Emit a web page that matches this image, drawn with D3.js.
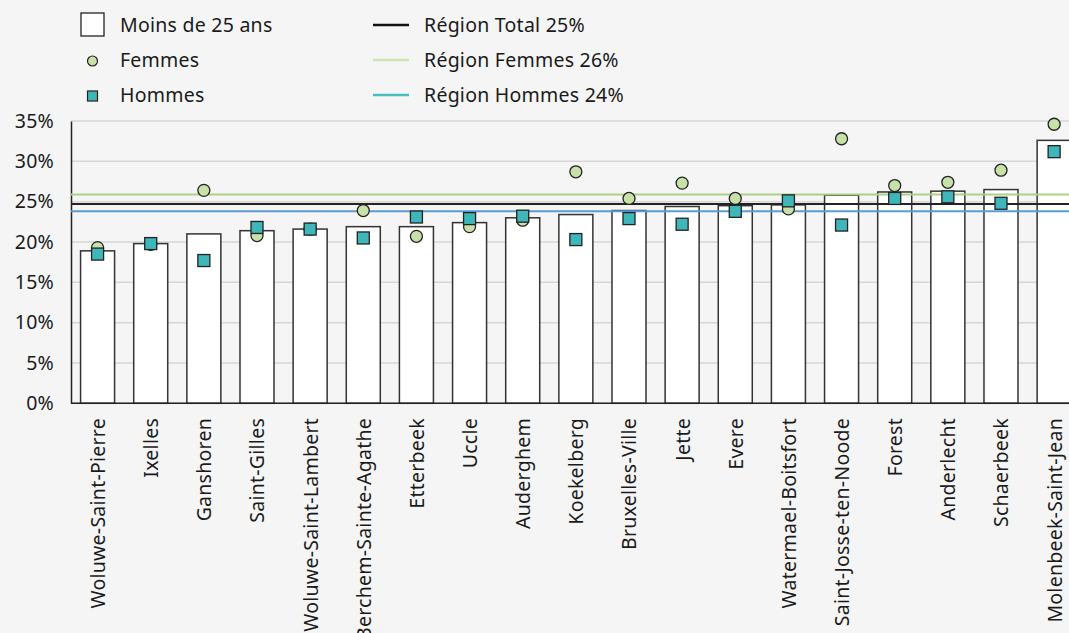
<!DOCTYPE html>
<html><head><meta charset="utf-8">
<script src="https://cdn.jsdelivr.net/npm/d3@7"></script>
<style>
html,body{margin:0;padding:0;background:#f5f5f5;overflow:hidden}
text{font-family:"Noto Sans", sans-serif;fill:#1a1a1a;letter-spacing:0.25px}
</style></head>
<body>
<svg id="c" width="1069" height="633"></svg>
<script>
const communes = ["Woluwe-Saint-Pierre","Ixelles","Ganshoren","Saint-Gilles","Woluwe-Saint-Lambert","Berchem-Sainte-Agathe","Etterbeek","Uccle","Auderghem","Koekelberg","Bruxelles-Ville","Jette","Evere","Watermael-Boitsfort","Saint-Josse-ten-Noode","Forest","Anderlecht","Schaerbeek","Molenbeek-Saint-Jean"];
const moins25 = [18.9,19.8,21.0,21.4,21.6,21.9,21.9,22.4,23.0,23.4,23.9,24.4,24.5,24.6,25.8,26.2,26.3,26.5,32.6];
const femmes  = [19.3,19.7,26.4,20.8,21.6,23.9,20.7,21.9,22.7,28.7,25.4,27.3,25.4,24.1,32.8,27.0,27.4,28.9,34.6];
const hommes  = [18.5,19.8,17.7,21.8,21.6,20.5,23.1,22.9,23.2,20.3,22.9,22.2,23.8,25.1,22.1,25.4,25.6,24.8,31.2];
const regionTotal = 24.7, regionFemmes = 25.9, regionHommes = 23.8;
const yTicks = [0,5,10,15,20,25,30,35];
const legendLeft = ["Moins de 25 ans","Femmes","Hommes"];
const legendRight = ["Région Total 25%","Région Femmes 26%","Région Hommes 24%"];

const svg = d3.select("#c");
const x = d3.scaleBand().domain(communes).range([71, 1080.7]).paddingInner(0.36).paddingOuter(0.18);
const y = d3.scaleLinear().domain([0,35]).range([403.3, 121]);
const FS = 19.5;
const FF = "'Noto Sans', sans-serif";

// gridlines
svg.append("g").selectAll("line").data(yTicks).join("line")
  .attr("x1",71).attr("x2",1069).attr("y1",d=>y(d)).attr("y2",d=>y(d))
  .attr("stroke","#d6d6d6").attr("stroke-width",1.5);

// y axis
const ya = svg.append("g").attr("transform","translate(71,0)")
  .call(d3.axisLeft(y).tickValues(yTicks).tickFormat(d=>d+"%").tickSize(0).tickPadding(17));
ya.select(".domain").attr("stroke","#222").attr("stroke-width",1.5);
ya.selectAll("text").attr("font-size",FS).style("font-family",FF).attr("fill","#1a1a1a");

// bars
svg.append("g").selectAll("rect").data(communes).join("rect")
  .attr("x",d=>x(d)).attr("width",x.bandwidth())
  .attr("y",(d,i)=>y(moins25[i])).attr("height",(d,i)=>y(0)-y(moins25[i]))
  .attr("fill","#ffffff").attr("stroke","#333").attr("stroke-width",1.5);

// baseline
svg.append("line").attr("x1",71).attr("x2",1069).attr("y1",y(0)).attr("y2",y(0)).attr("stroke","#222").attr("stroke-width",1.5);

// reference lines
const refs = [[regionFemmes,"#acd088"],[regionTotal,"#222222"],[regionHommes,"#5b9bd5"]];
svg.append("g").selectAll("line").data(refs).join("line")
  .attr("x1",71).attr("x2",1069).attr("y1",d=>y(d[0])).attr("y2",d=>y(d[0]))
  .attr("stroke",d=>d[1]).attr("stroke-width",2);

// femmes circles
svg.append("g").selectAll("circle").data(communes).join("circle")
  .attr("cx",d=>x(d)+x.bandwidth()/2).attr("cy",(d,i)=>y(femmes[i])).attr("r",6)
  .attr("fill","#c8e1a8").attr("stroke","#222").attr("stroke-width",1.3);

// hommes squares
const sq=12;
svg.append("g").selectAll("rect").data(communes).join("rect")
  .attr("x",d=>x(d)+x.bandwidth()/2-sq/2).attr("y",(d,i)=>y(hommes[i])-sq/2)
  .attr("width",sq).attr("height",sq)
  .attr("fill","#3fb6ba").attr("stroke","#222").attr("stroke-width",1.3);

// x labels
svg.append("g").selectAll("text").data(communes).join("text")
  .attr("transform",d=>`translate(${x(d)+x.bandwidth()/2+7.5},418) rotate(-90)`)
  .attr("text-anchor","end").attr("font-size",FS).text(d=>d);

// legend
const lg = svg.append("g");
lg.append("rect").attr("x",81).attr("y",13).attr("width",23).attr("height",23).attr("fill","#fff").attr("stroke","#222").attr("stroke-width",1.3);
lg.append("circle").attr("cx",92.5).attr("cy",61).attr("r",5).attr("fill","#c8e1a8").attr("stroke","#222").attr("stroke-width",1.2);
lg.append("rect").attr("x",87.5).attr("y",91).attr("width",10).attr("height",10).attr("fill","#3fb6ba").attr("stroke","#222").attr("stroke-width",1.2);
lg.selectAll("text.l").data(legendLeft).join("text").attr("class","l")
  .attr("x",120).attr("y",(d,i)=>25+i*35).attr("dy","0.35em").attr("font-size",FS).text(d=>d);
const lineCols = ["#111111","#cde4b4","#45bfc0"];
lg.selectAll("line").data(lineCols).join("line")
  .attr("x1",373).attr("x2",409).attr("y1",(d,i)=>25+i*35).attr("y2",(d,i)=>25+i*35)
  .attr("stroke",d=>d).attr("stroke-width",2.5);
lg.selectAll("text.r").data(legendRight).join("text").attr("class","r")
  .attr("x",424).attr("y",(d,i)=>25+i*35).attr("dy","0.35em").attr("font-size",FS).text(d=>d);
</script>
</body></html>
